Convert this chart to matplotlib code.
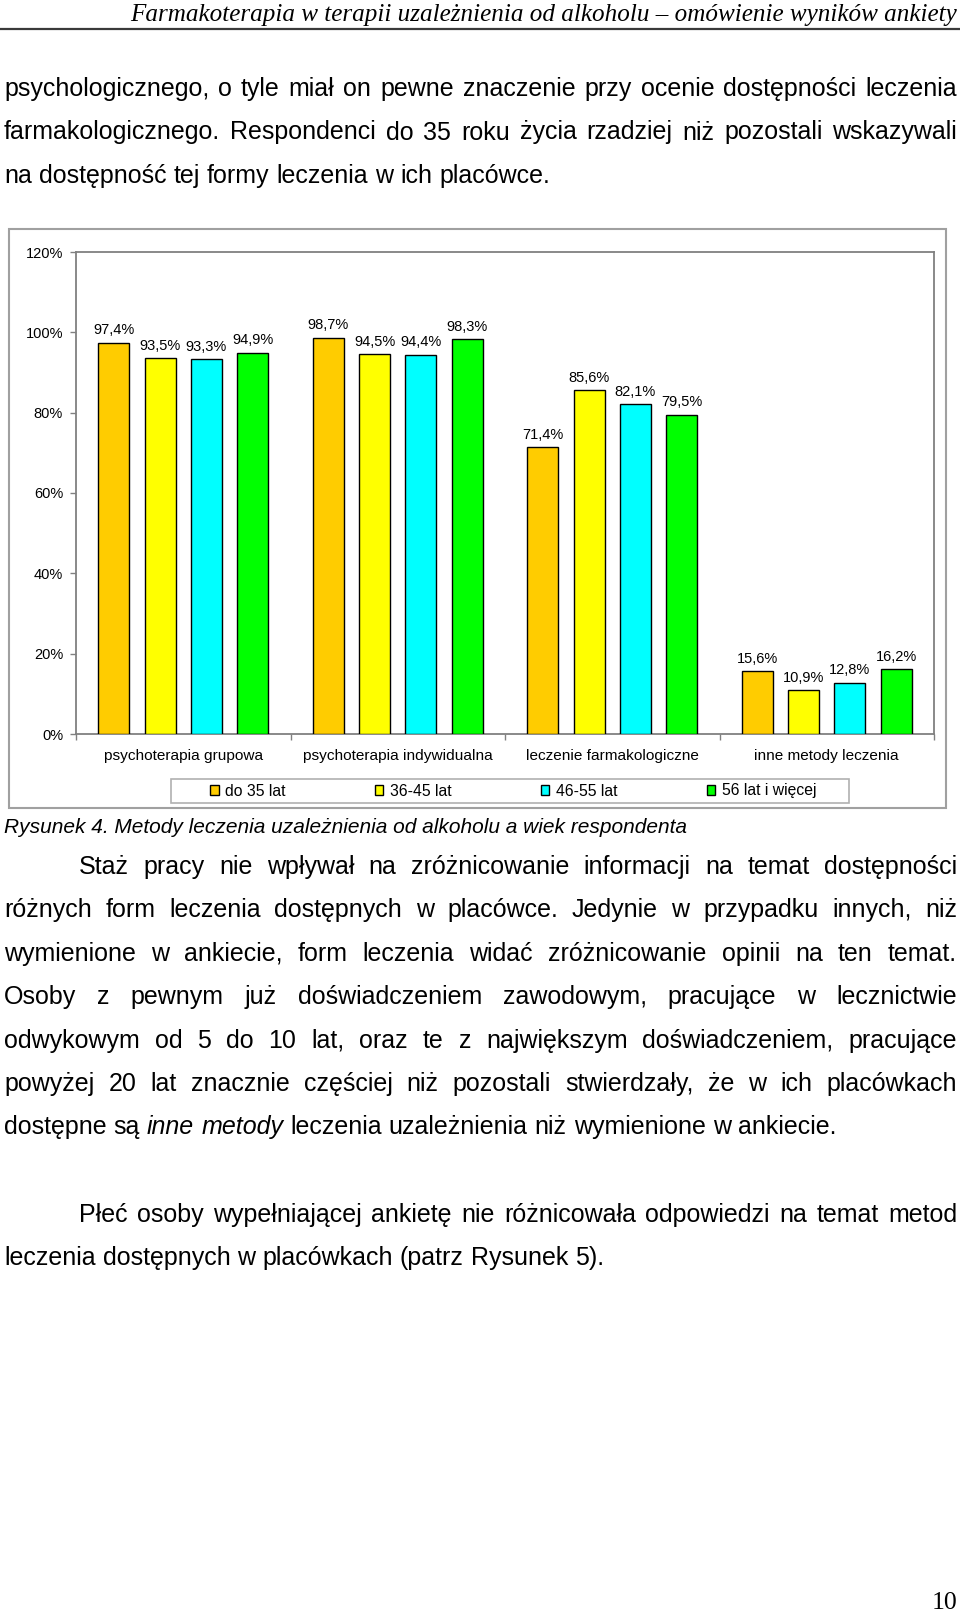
import matplotlib
matplotlib.use("Agg")
import matplotlib.pyplot as plt
from matplotlib.patches import Rectangle
from matplotlib.lines import Line2D
from matplotlib.ticker import FixedLocator
import numpy as np

W, H, DPI = 960, 1613, 100

# ---------------- data ----------------
categories = ["psychoterapia grupowa", "psychoterapia indywidualna",
              "leczenie farmakologiczne", "inne metody leczenia"]
series_names = ["do 35 lat", "36-45 lat", "46-55 lat", "56 lat i więcej"]
do_35 = [97.4, 98.7, 71.4, 15.6]
lat_36_45 = [93.5, 94.5, 85.6, 10.9]
lat_46_55 = [93.3, 94.4, 82.1, 12.8]
lat_56_plus = [94.9, 98.3, 79.5, 16.2]
y_ticks = [0, 20, 40, 60, 80, 100, 120]
colors = ["#FFCC00", "#FFFF00", "#00FFFF", "#00FF00"]

header = "Farmakoterapia w terapii uzależnienia od alkoholu – omówienie wyników ankiety"
para1 = [
    "psychologicznego, o tyle miał on pewne znaczenie przy ocenie dostępności leczenia",
    "farmakologicznego. Respondenci do 35 roku życia rzadziej niż pozostali wskazywali",
    "na dostępność tej formy leczenia w ich placówce.",
]
caption = "Rysunek 4. Metody leczenia uzależnienia od alkoholu a wiek respondenta"
para2 = [
    "Staż pracy nie wpływał na zróżnicowanie informacji na temat dostępności",
    "różnych form leczenia dostępnych w placówce. Jedynie w przypadku innych, niż",
    "wymienione w ankiecie, form leczenia widać zróżnicowanie opinii na ten temat.",
    "Osoby z pewnym już doświadczeniem zawodowym, pracujące w lecznictwie",
    "odwykowym od 5 do 10 lat, oraz te z największym doświadczeniem, pracujące",
    "powyżej 20 lat znacznie częściej niż pozostali stwierdzały, że w ich placówkach",
    "dostępne są *inne metody* leczenia uzależnienia niż wymienione w ankiecie.",
]
para3 = [
    "Płeć osoby wypełniającej ankietę nie różnicowała odpowiedzi na temat metod",
    "leczenia dostępnych w placówkach (patrz Rysunek 5).",
]
page_number = "10"

series = [do_35, lat_36_45, lat_46_55, lat_56_plus]

# ---------------- figure ----------------
fig = plt.figure(figsize=(W / DPI, H / DPI), dpi=DPI)
fig.patch.set_facecolor("white")
renderer = fig.canvas.get_renderer()


def fx(x):
    return x / W


def fy(y):
    return 1 - y / H


SANS = "Liberation Sans"
SERIF = "Liberation Serif"


def text_width(s, size, family=SANS, style="normal"):
    t = fig.text(0, 0, s, fontsize=size, family=family, style=style)
    w = t.get_window_extent(renderer).width
    t.remove()
    return w


def parse(line):
    segs = []
    italic = False
    for w in line.split(" "):
        if w.startswith("*"):
            italic = True
            w = w[1:]
        end = w.endswith("*")
        if end:
            w = w[:-1]
        segs.append((w, italic))
        if end:
            italic = False
    return segs


def draw_line(line, y, x0, x1, justify, size):
    segs = parse(line)
    widths = [text_width(w, size, style="italic" if it else "normal") for w, it in segs]
    space = text_width("n n", size) - text_width("nn", size)
    if justify and len(segs) > 1:
        gap = (x1 - x0 - sum(widths)) / (len(segs) - 1)
    else:
        gap = space
    x = x0
    for (w, it), wd in zip(segs, widths):
        fig.text(fx(x), fy(y), w, fontsize=size, family=SANS,
                 style="italic" if it else "normal", ha="left", va="baseline",
                 color="black")
        x += wd + gap


# header
hsize = 10 * 830 / text_width(header, 10, family=SERIF, style="italic")
fig.text(fx(957), fy(21), header, fontsize=hsize, family=SERIF, style="italic",
         ha="right", va="baseline")
fig.add_artist(Line2D([0, 1], [fy(29), fy(29)], transform=fig.transFigure,
                      color="#3a3a3a", lw=1.6))

# body text size (fit natural last line of first paragraph)
bsize = 10 * 548 / text_width(para1[2], 10)
LEFT, RIGHT, INDENT = 4, 957, 79

for i, line in enumerate(para1):
    draw_line(line, 96.3 + i * 43.2, LEFT, RIGHT, i < len(para1) - 1, bsize)

for i, line in enumerate(para2):
    x0 = INDENT if i == 0 else LEFT
    draw_line(line, 874 + i * 43.4, x0, RIGHT, i < len(para2) - 1, bsize)

for i, line in enumerate(para3):
    x0 = INDENT if i == 0 else LEFT
    draw_line(line, 1222 + i * 43.3, x0, RIGHT, i < len(para3) - 1, bsize)

# caption
csize = 10 * 686 / text_width(caption, 10, style="italic")
fig.text(fx(4), fy(833), caption, fontsize=csize, family=SANS, style="italic",
         ha="left", va="baseline")

# page number
fig.text(fx(957), fy(1609), page_number, fontsize=18.5, family=SERIF,
         ha="right", va="baseline")

# ---------------- chart ----------------
fig.add_artist(Rectangle((fx(9), fy(808)), (946 - 9) / W, (808 - 229) / H,
                         transform=fig.transFigure, fill=False,
                         edgecolor="#a0a0a0", lw=1.5))

ax = fig.add_axes([fx(76), fy(734), (934 - 76) / W, (734 - 252) / H])
ax.set_facecolor("white")
CH = 10.5
x = np.arange(len(categories))
pitch, bw = 0.216, 0.1445
bars = []
for k, (vals, name, col) in enumerate(zip(series, series_names, colors)):
    pos = x + (k - 1.5) * pitch
    b = ax.bar(pos, vals, width=bw, color=col, edgecolor="black", lw=1.0,
               label=name, zorder=3)
    bars.append(b)
    for px_, v in zip(pos, vals):
        ax.annotate(f"{v:.1f}%".replace(".", ","), xy=(px_, v), xytext=(0, 6),
                    textcoords="offset points", ha="center", va="baseline",
                    fontsize=CH, family=SANS)

ax.set_xlim(-0.5, len(categories) - 0.5)
ax.set_ylim(0, 120)
ax.set_yticks(y_ticks)
ax.set_yticklabels([f"{t}%" for t in y_ticks], fontsize=CH, family=SANS)
ax.tick_params(axis="y", length=4, width=1, color="#808080", pad=5.3)
ax.set_xticks(x)
ax.set_xticklabels(categories, fontsize=11.1, family=SANS)
ax.tick_params(axis="x", which="major", length=0, pad=10.8)
ax.xaxis.set_minor_locator(FixedLocator(np.arange(-0.5, len(categories), 1.0)))
ax.tick_params(axis="x", which="minor", length=4, width=1, color="#808080")
for s in ax.spines.values():
    s.set_color("#808080")
    s.set_linewidth(1.3)

# legend
fig.add_artist(Rectangle((fx(171), fy(803)), (849 - 171) / W, (803 - 779) / H,
                         transform=fig.transFigure, fill=False,
                         edgecolor="#b0b0b0", lw=1.2))
leg = ax.legend(handles=bars, labels=series_names, ncol=4, frameon=False,
                loc="center", bbox_to_anchor=(fx(513), fy(791)),
                bbox_transform=fig.transFigure,
                prop={"family": SANS, "size": 11.3},
                handlelength=0.55, handleheight=0.55, handletextpad=0.4,
                columnspacing=5.7, borderpad=0, borderaxespad=0)

fig.savefig("out.png", dpi=DPI, facecolor="white")
